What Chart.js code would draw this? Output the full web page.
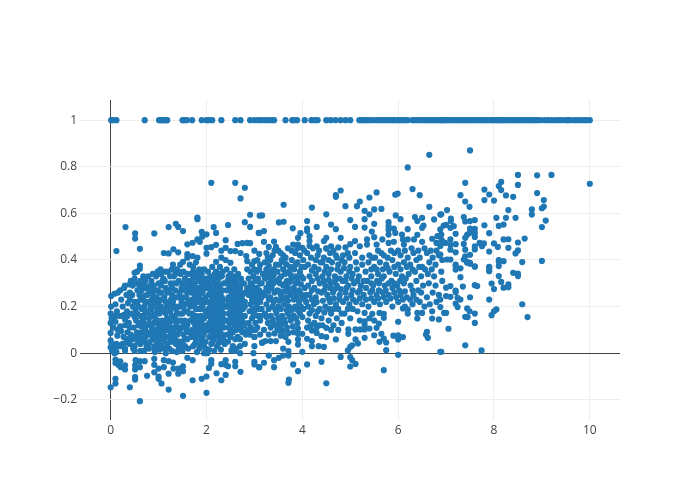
<!DOCTYPE html>
<html>
<head>
<meta charset="utf-8">
<script src="https://cdn.jsdelivr.net/npm/chart.js@4"></script>
<style>
body { margin: 0; background: #fff; }
canvas { display: block; }
</style>
</head>
<body>
<canvas id="myScatterChart" width="700" height="500"></canvas>
<script>
// points with y exactly 1
const topRowX = [0.01,0.05,0.12,0.71,1.01,1.05,1.08,1.12,1.15,1.18,1.5,1.54,1.59,1.7,1.9,2.0,2.05,2.12,2.31,2.6,2.71,2.91,3.0,3.08,3.15,3.22,3.29,3.36,3.41,3.65,3.79,3.82,3.89,4.05,4.19,4.26,4.32,4.5,4.59,4.69,4.8,4.9,5.0,5.19,5.24,5.28,5.33,5.38,5.43,5.5,5.57,5.62,5.68,5.74,5.8,5.85,5.9,5.95,6.0,6.05,6.1,6.15,6.2,6.3,6.35,6.4,6.45,6.52,6.56,6.62,6.66,6.7,6.75,6.8,6.85,6.9,6.92,6.96,7.0,7.05,7.1,7.15,7.2,7.25,7.3,7.35,7.4,7.45,7.5,7.55,7.6,7.65,7.7,7.75,7.8,7.85,7.9,7.95,8.0,8.04,8.08,8.12,8.16,8.2,8.25,8.3,8.35,8.4,8.45,8.5,8.55,8.6,8.65,8.7,8.75,8.8,8.85,8.9,8.96,9.05,9.13,9.2,9.28,9.35,9.42,9.5,9.55,9.6,9.68,9.75,9.8,9.87,9.93,10.0];

// [x, y], left part of the cloud
const upperLeft = [[2.1,.731],[2.6,.731],[2.8,.71],[2.71,.664],[2.91,.594],[3.11,.59],[1.81,.575],[1.81,.582],[.31,.541],[1.21,.541],[1.36,.555],[1.41,.542],[1.51,.524],[.51,.514],[.51,.492],[.91,.514],[.61,.448],[.12,.438],[1.9,.521],[2.0,.51],[1.91,.5],[1.81,.488],[1.86,.478],[1.71,.474],[1.6,.467],[2.15,.541],[2.45,.55],[2.2,.516],[2.8,.562],[2.91,.542],[3.09,.516],[2.0,.452],[2.1,.455],[2.2,.465],[2.4,.485],[2.4,.452],[2.31,.44],[2.65,.469],[2.75,.472],[2.85,.473],[2.91,.472],[3.0,.44],[3.1,.426],[1.11,.43],[1.21,.428],[1.31,.446],[1.41,.433],[1.6,.425],[1.71,.417],[1.81,.41],[2.0,.427],[2.5,.438],[2.6,.438],[2.71,.43],[1.51,.392],[1.6,.41],[2.31,.41],[2.2,.392],[2.4,.4],[2.5,.388],[2.83,.417],[2.85,.395],[3.0,.395],[3.06,.4],[.61,.376],[.61,.362],[.5,.345],[.55,.35]];

const lowerEdge = [[.61,-.206],[1.51,-.183],[2.0,-.17],[1.21,-.156],[0,-.146],[.1,-.11],[.1,-.13],[.4,-.146],[1.06,-.13],[1,-.11],[1,-.1],[.76,-.097],[.51,-.103],[.51,-.113],[1.71,-.116],[1.9,-.11],[2,-.1],[2.31,-.116],[2.4,-.093],[2.21,-.086],[2.71,-.08],[.91,-.082],[1.21,-.088],[1.41,-.088],[1.51,-.077],[1.31,-.066],[1.41,-.066],[1.51,-.056],[1,-.066],[1.11,-.06],[.91,-.05],[.61,-.06],[.51,-.07],[.51,-.052],[.3,-.07],[.3,-.052],[.21,-.06],[.1,-.027],[.1,-.042],[.2,-.035],[.16,-.05],[2.05,-.063],[2.1,-.03],[2.1,-.045],[2.31,-.047],[2.4,-.03],[2.45,-.056],[2.4,-.05],[2.6,-.037],[2.6,-.056],[3,-.037],[3,-.048],[3.1,-.06],[1.71,-.03],[1.6,-.02],[.71,-.034],[.61,-.034],[1.21,-.034],[1.11,-.03],[.91,-.024],[.52,-.03],[1.3,-.04],[3.72,-.113],[3.71,-.127],[4.5,-.129],[5.7,-.073],[3.91,-.077],[4.1,-.048],[4.4,-.037],[3.81,-.048],[3.41,-.06],[3.1,-.06],[3.2,-.041],[5.0,-.057],[5.11,-.046],[5.04,-.03],[5,-.017],[4.8,-.016],[6,-.007],[3.51,-.02],[3.41,-.03],[3.6,-.01],[3.71,-.01],[3.3,-.01],[4,.006],[3.6,.02],[3.71,.009],[5.75,.013],[6.9,.006],[4.95,.012],[5,.027],[5.04,.034]];

// dense part, x below 3.2
const denseLeft = [[.01,.245],[.01,.2],[0,.17],[.02,.15],[0,.13],[0,.087],[0,.055],[.02,.04],[0,.025],[.03,.01],[.08,.255],[.1,.21],[.09,.16],[.1,.135],[.12,.04],[.1,.02],[.08,0],[.2,.27],[.15,.26],[.28,.28],[.22,.23],[.3,.29],[.18,.16],[.28,.165],[.3,.145],[.2,.115],[.3,.12],[.25,.04],[.2,.03],[.3,.02],[.32,.045],[.3,.01],[.12,.005],[.17,.035],[.42,.31],[.5,.32],[.4,.295],[.52,.3],[.4,.26],[.45,.25],[.4,.23],[.5,.22],[.52,.19],[.55,.17],[.5,.155],[.53,.14],[.58,.12],[.4,.11],[.35,.09],[.42,.08],[.36,.06],[.45,.06],[.4,.04],[.5,.03],[.47,.02],[.5,.01],[.72,.31],[.65,.27],[.75,.28],[.7,.245],[.8,.26],[.85,.31],[.9,.29],[.95,.33],[1,.3],[.88,.25],[.78,.22],[.95,.24],[.7,.2],[.65,.19],[.72,.17],[.62,.16],[.8,.15],[.68,.13],[.75,.12],[.85,.19],[.92,.17],[.98,.14],[.86,.11],[.65,.09],[.78,.09],[.95,.1],[.7,.05],[.88,.06],[.62,.04],[1,.07],[.92,.03],[.7,.01],[.92,.015],[.75,.03],[.62,.01],[.92,.005],[1,.04],[1.05,.34],[1.1,.32],[1.15,.28],[1.02,.26],[1.2,.35],[1.25,.3],[1.12,.24],[1.22,.21],[1.05,.2],[1.15,.17],[1.02,.17],[1.08,.14],[1.22,.13],[1.28,.16],[1.18,.1],[1.25,.09],[1.1,.08],[1.3,.07],[1.12,.05],[1.25,.05],[1.12,.02],[1.22,.02],[1.15,0],[1.28,.01],[1.3,.38],[1.38,.36],[1.45,.38],[1.32,.33],[1.42,.31],[1.52,.35],[1.55,.32],[1.35,.27],[1.48,.28],[1.58,.29],[1.4,.24],[1.52,.24],[1.6,.26],[1.33,.2],[1.45,.2],[1.55,.21],[1.62,.22],[1.38,.17],[1.5,.17],[1.6,.18],[1.42,.14],[1.55,.14],[1.35,.11],[1.48,.11],[1.6,.12],[1.4,.08],[1.52,.08],[1.6,.06],[1.45,.05],[1.36,.04],[1.55,.03],[1.42,.02],[1.38,.005],[1.5,.01],[1.62,.02],[1.65,.38],[1.72,.37],[1.78,.39],[1.85,.36],[1.68,.34],[1.78,.33],[1.88,.32],[1.65,.3],[1.75,.3],[1.82,.28],[1.9,.29],[1.68,.26],[1.76,.25],[1.85,.25],[1.92,.26],[1.7,.23],[1.8,.22],[1.88,.23],[1.95,.22],[1.66,.2],[1.75,.2],[1.84,.19],[1.92,.2],[1.98,.18],[1.7,.17],[1.78,.16],[1.88,.16],[1.95,.15],[1.66,.14],[1.74,.13],[1.84,.13],[1.92,.12],[1.98,.12],[1.7,.1],[1.8,.1],[1.88,.09],[1.96,.09],[1.68,.07],[1.78,.06],[1.9,.06],[1.98,.05],[1.72,.03],[1.85,.02],[1.92,.03],[1.98,.02],[1.8,.005],[1.95,0],[2.02,0],[2.03,.35],[2.12,.37],[2.2,.35],[2.28,.37],[2.05,.31],[2.15,.32],[2.25,.32],[2.32,.33],[2.02,.28],[2.1,.27],[2.2,.28],[2.28,.29],[2.36,.3],[2.05,.25],[2.14,.24],[2.23,.25],[2.3,.26],[2.02,.22],[2.1,.21],[2.18,.22],[2.27,.22],[2.35,.23],[2.05,.19],[2.13,.18],[2.22,.19],[2.3,.19],[2.38,.2],[2.03,.16],[2.1,.15],[2.18,.16],[2.27,.16],[2.35,.17],[2.06,.13],[2.14,.12],[2.22,.13],[2.3,.13],[2.38,.14],[2.03,.1],[2.12,.09],[2.2,.1],[2.28,.1],[2.36,.11],[2.06,.07],[2.15,.06],[2.25,.07],[2.33,.08],[2.1,.04],[2.22,.03],[2.3,.05],[2.38,.04],[2.05,.015],[2.16,.01],[2.3,.015],[2.42,.36],[2.5,.34],[2.58,.36],[2.66,.34],[2.44,.31],[2.54,.31],[2.62,.31],[2.72,.32],[2.42,.27],[2.5,.27],[2.6,.28],[2.7,.28],[2.78,.3],[2.46,.24],[2.55,.24],[2.65,.25],[2.75,.25],[2.42,.2],[2.5,.21],[2.6,.21],[2.7,.22],[2.8,.22],[2.46,.17],[2.56,.18],[2.66,.18],[2.76,.19],[2.42,.14],[2.52,.15],[2.62,.15],[2.72,.15],[2.46,.11],[2.58,.12],[2.68,.12],[2.78,.12],[2.43,.08],[2.55,.09],[2.65,.07],[2.75,.09],[2.85,.1],[2.45,.05],[2.55,.03],[2.7,.03],[2.62,.02],[2.8,.04],[2.58,.01],[2.52,.012],[2.7,.0],[2.85,.36],[2.95,.38],[3.05,.35],[3.12,.38],[2.88,.32],[2.98,.33],[3.08,.32],[3.18,.34],[2.85,.28],[2.95,.29],[3.05,.28],[3.15,.3],[2.88,.25],[2.98,.25],[3.08,.25],[3.18,.26],[2.92,.21],[3.02,.22],[3.12,.22],[3.15,.19],[2.9,.18],[3,.18],[3.08,.16],[2.95,.15],[3.02,.13],[3.12,.14],[2.88,.13],[2.96,.1],[3.06,.11],[2.9,.08],[3.0,.07],[3.12,.08],[3,.03],[3.02,.1],[3.16,.045],[2.98,.0]];

// second pass over the solid patch, between the first readings
const denseLeftExtra = [[.25,.2],[.34,.18],[.15,.1],[.27,.07],[.6,.29],[.63,.23],[.58,.2],[.76,.25],[.82,.29],[.93,.27],[.68,.28],[.83,.2],[.9,.22],[.75,.18],[.67,.15],[.84,.16],[.9,.13],[.72,.1],[.82,.08],[.88,.09],[.6,.07],[.72,.07],[.8,.04],[.98,.19],[1.05,.29],[1.13,.31],[1.18,.26],[1.08,.23],[1.18,.2],[1.12,.19],[1.24,.18],[1.1,.12],[1.16,.13],[1.28,.11],[1.04,.1],[1.06,.06],[1.2,.07],[1.32,.3],[1.28,.25],[1.38,.3],[1.46,.34],[1.44,.26],[1.54,.27],[1.3,.22],[1.4,.2],[1.48,.22],[1.58,.24],[1.34,.15],[1.44,.17],[1.54,.18],[1.64,.17],[1.37,.13],[1.47,.14],[1.58,.1],[1.32,.09],[1.44,.1],[1.55,.06],[1.62,.09],[1.34,.06],[1.47,.03],[1.72,.35],[1.82,.35],[1.9,.34],[1.95,.36],[1.98,.32],[1.72,.32],[1.84,.31],[1.95,.3],[2,.3],[1.7,.28],[1.79,.27],[1.88,.27],[1.96,.28],[1.73,.21],[1.82,.24],[1.9,.21],[1.98,.24],[1.78,.19],[1.88,.19],[1.72,.15],[1.82,.15],[1.9,.14],[1.98,.16],[1.77,.115],[1.87,.11],[1.94,.105],[1.73,.08],[1.83,.08],[1.93,.075],[1.76,.04],[1.87,.04],[1.95,.04],[2.08,.33],[2.17,.34],[2.26,.34],[2.34,.35],[2.08,.29],[2.16,.3],[2.24,.3],[2.33,.27],[2.08,.26],[2.17,.26],[2.26,.27],[2.12,.23],[2.2,.24],[2.32,.24],[2.08,.2],[2.17,.2],[2.25,.2],[2.34,.21],[2.08,.17],[2.16,.18],[2.24,.17],[2.32,.18],[2.1,.14],[2.18,.14],[2.26,.145],[2.34,.15],[2.08,.11],[2.16,.11],[2.24,.115],[2.33,.12],[2.1,.08],[2.19,.08],[2.29,.085],[2.13,.05],[2.26,.045],[2.35,.06],[2.46,.33],[2.56,.33],[2.64,.32],[2.74,.3],[2.47,.29],[2.56,.29],[2.66,.29],[2.52,.25],[2.6,.26],[2.7,.26],[2.8,.26],[2.46,.22],[2.56,.22],[2.65,.23],[2.74,.23],[2.5,.19],[2.6,.19],[2.7,.2],[2.8,.2],[2.5,.16],[2.6,.165],[2.7,.17],[2.8,.16],[2.48,.13],[2.56,.135],[2.66,.14],[2.76,.135],[2.5,.1],[2.62,.1],[2.72,.1],[2.82,.08],[2.5,.07],[2.6,.06],[2.7,.06],[2.92,.35],[3,.36],[3.1,.36],[2.92,.3],[3.02,.31],[3.12,.3],[2.9,.27],[3,.27],[3.1,.27],[2.95,.23],[3.05,.24],[3.15,.24],[2.96,.19],[3.05,.2],[3.1,.19],[2.98,.16],[3.14,.16],[2.92,.11]];

// third pass, left flank of the patch
const leftFlank = [[.13,.18],[.06,.11],[.14,.075],[.24,.16],[.22,.095],[.33,.25],[.36,.215],[.35,.16],[.38,.13],[.46,.29],[.56,.27],[.46,.2],[.6,.25],[.56,.22],[.44,.17],[.6,.13],[.48,.11],[.55,.09],[.5,.07],[.56,.05],[.68,.33],[.62,.31],[.78,.33],[.88,.34],[.98,.35],[.7,.29],[.84,.27],[.98,.27],[.72,.22],[.86,.23],[1,.22],[.8,.18],[.94,.2],[.7,.15],[.78,.125],[.93,.15],[.64,.115],[.82,.125],[1,.12],[.74,.075],[.9,.07],[.98,.085],[.66,.06],[.82,.05],[.95,.055],[.8,.02],[1.02,.015],[1.04,.36],[1.14,.35],[1.24,.33],[1.28,.36],[1.08,.31],[1.22,.27],[1.06,.26],[1.28,.28],[1.15,.22],[1.26,.23],[1.03,.23],[1.26,.2],[1.08,.18],[1.18,.15],[1.3,.14],[1.05,.12],[1.14,.1],[1.22,.11],[1.06,.08],[1.16,.07],[1.28,.05],[1.18,.04],[1.06,.03],[1.35,.34],[1.42,.35],[1.5,.3],[1.6,.34],[1.62,.31],[1.36,.24],[1.46,.24],[1.62,.28],[1.36,.19],[1.52,.2],[1.42,.11],[1.52,.12],[1.4,.05],[1.5,.05]];

// middle of the cloud, x from 3.2 to 7
const denseMiddle = [[3.2,.478],[3.41,.479],[3.3,.456],[3.45,.456],[3.51,.561],[3.61,.564],[3.61,.637],[3.16,.591],[3.1,.516],[3.2,.524],[3.8,.536],[3.81,.466],[3.91,.466],[3.91,.495],[3.96,.515],[4,.452],[3.25,.43],[3.38,.42],[3.5,.44],[3.6,.42],[3.7,.45],[3.85,.43],[3.95,.42],[4.1,.43],[3.22,.39],[3.33,.4],[3.45,.38],[3.57,.4],[3.67,.38],[3.78,.4],[3.9,.39],[4.02,.4],[3.25,.36],[3.35,.35],[3.48,.35],[3.6,.36],[3.72,.35],[3.83,.36],[3.95,.35],[4.05,.37],[3.22,.32],[3.34,.32],[3.45,.31],[3.56,.33],[3.68,.31],[3.78,.32],[3.9,.31],[4.02,.32],[3.25,.28],[3.36,.28],[3.48,.27],[3.6,.29],[3.7,.28],[3.82,.28],[3.93,.27],[4.05,.28],[3.22,.25],[3.33,.24],[3.45,.23],[3.55,.25],[3.66,.24],[3.76,.25],[3.88,.24],[4,.24],[3.25,.21],[3.38,.2],[3.5,.2],[3.62,.21],[3.72,.2],[3.85,.2],[3.97,.2],[4.08,.22],[3.22,.17],[3.34,.16],[3.46,.17],[3.58,.16],[3.7,.17],[3.82,.16],[3.95,.17],[3.28,.13],[3.4,.13],[3.52,.13],[3.64,.13],[3.76,.14],[3.9,.13],[3.48,.1],[3.6,.095],[3.51,.1],[3.71,.087],[3.91,.106],[4,.083],[3.91,.083],[3.2,.1],[3,.1],[3,.07],[3.45,.052],[3.34,.052],[3.23,.052],[3.16,.045],[3.71,.049],[3.91,.037],[3.91,.059],[4.1,.062],[4.2,.052],[4.2,.03],[4.34,.03],[4.45,.027],[4.7,.059],[5.11,.059],[5.16,.042],[5.3,.066],[5.61,.049],[5.75,.046],[5.7,.063],[5.65,.083],[5.5,.077],[5.9,.075],[6,.077],[6,.059],[6.1,.069],[6.6,.092],[6.62,.066],[6.58,.08],[4.5,.069],[4.4,.073],[4.5,.109],[4.3,.087],[4.2,.097],[4.96,.083],[4.96,.102],[5.11,.102],[5.21,.102],[5.3,.102],[5.4,.106],[5.55,.109],[5.6,.127],[5.3,.123],[5.3,.137],[5.3,.173],[5.46,.169],[5.61,.173],[5.7,.169],[5.7,.152],[6,.135],[6.1,.192],[6.2,.188],[6.2,.17],[6.4,.173],[6.4,.149],[6.5,.173],[6.71,.18],[6.71,.149],[6.85,.145],[6.96,.173],[4.12,.14],[4.25,.13],[4.35,.12],[4.1,.11],[4.15,.17],[4.28,.16],[4.4,.15],[4.55,.14],[4.65,.12],[4.72,.15],[4.82,.13],[4.6,.17],[4.75,.19],[4.88,.17],[5,.15],[5.05,.19],[5.15,.18],[4.12,.2],[4.24,.21],[4.36,.19],[4.48,.2],[4.58,.22],[4.7,.21],[4.85,.22],[4.98,.21],[5.12,.22],[5.25,.21],[5.38,.2],[5.5,.22],[5.62,.21],[5.75,.22],[5.88,.2],[6,.22],[6.14,.2],[6.3,.21],[6.45,.22],[6.55,.2],[6.66,.21],[6.8,.22],[4.15,.25],[4.28,.24],[4.4,.26],[4.52,.25],[4.64,.26],[4.78,.25],[4.9,.26],[5.02,.25],[5.16,.26],[5.28,.25],[5.42,.26],[5.55,.25],[5.68,.26],[5.8,.25],[5.92,.26],[6.05,.25],[6.18,.24],[6.32,.25],[6.48,.26],[6.6,.24],[6.72,.26],[6.85,.25],[4.12,.29],[4.25,.28],[4.36,.3],[4.48,.29],[4.6,.3],[4.72,.29],[4.84,.31],[4.96,.29],[5.08,.3],[5.22,.29],[5.35,.31],[5.48,.29],[5.6,.3],[5.72,.29],[5.86,.31],[5.98,.29],[6.12,.3],[6.26,.29],[6.38,.31],[6.52,.29],[6.64,.3],[6.78,.29],[6.92,.31],[4.15,.33],[4.28,.34],[4.42,.33],[4.55,.34],[4.68,.33],[4.8,.35],[4.92,.33],[5.05,.34],[5.18,.33],[5.32,.35],[5.44,.33],[5.58,.34],[5.7,.33],[5.82,.35],[5.95,.34],[6.08,.33],[6.22,.34],[6.35,.35],[6.48,.33],[6.62,.34],[6.75,.33],[6.9,.35],[4.12,.38],[4.25,.37],[4.38,.39],[4.5,.37],[4.62,.39],[4.75,.38],[4.88,.39],[5,.37],[5.12,.39],[5.25,.38],[5.38,.39],[5.5,.37],[5.62,.39],[5.75,.38],[5.88,.4],[6,.38],[6.12,.39],[6.25,.38],[6.38,.4],[6.5,.37],[6.65,.39],[6.78,.38],[6.92,.4],[4.18,.41],[4.32,.42],[4.45,.41],[4.58,.43],[4.72,.41],[4.85,.42],[4.98,.41],[5.1,.43],[5.25,.41],[5.4,.42],[5.52,.41],[5.65,.43],[5.78,.41],[5.92,.43],[6.05,.42],[6.2,.41],[6.32,.43],[6.45,.41],[6.6,.43],[6.72,.41],[6.85,.42]];

// second pass over the middle, off the first rows
const denseMiddleExtra = [[3.28,.41],[3.42,.44],[3.55,.43],[3.65,.41],[3.78,.44],[3.9,.45],[4.04,.44],[3.3,.375],[3.4,.36],[3.52,.38],[3.63,.39],[3.75,.37],[3.86,.38],[3.98,.37],[3.28,.34],[3.4,.335],[3.52,.32],[3.64,.34],[3.76,.335],[3.87,.33],[3.98,.33],[3.3,.3],[3.4,.3],[3.53,.3],[3.65,.3],[3.74,.305],[3.86,.3],[3.97,.295],[3.29,.265],[3.42,.26],[3.52,.265],[3.63,.265],[3.74,.26],[3.85,.26],[3.97,.255],[4.08,.25],[3.3,.23],[3.4,.22],[3.52,.225],[3.6,.235],[3.7,.225],[3.82,.23],[3.93,.22],[4.05,.23],[3.3,.19],[3.44,.185],[3.55,.19],[3.67,.185],[3.78,.185],[3.9,.185],[4.02,.19],[3.26,.155],[3.38,.145],[3.5,.15],[3.62,.145],[3.74,.155],[3.87,.15],[4,.155],[3.34,.11],[3.44,.12],[3.55,.115],[3.68,.11],[3.8,.115],[3.3,.08],[3.42,.085],[3.55,.075],[3.65,.07],[3.82,.09],[4.35,.44],[4.22,.45],[4.5,.45],[4.65,.44],[4.28,.4],[4.42,.39],[4.55,.4],[4.7,.42],[4.82,.4],[4.95,.43],[4.2,.355],[4.34,.36],[4.47,.35],[4.6,.36],[4.73,.36],[4.87,.365],[4.98,.35],[5.14,.36],[4.2,.31],[4.32,.32],[4.45,.31],[4.55,.315],[4.68,.31],[4.78,.32],[4.9,.31],[5.03,.32],[5.15,.31],[5.28,.31],[4.2,.27],[4.33,.265],[4.46,.27],[4.58,.28],[4.68,.275],[4.8,.275],[4.92,.28],[5.05,.27],[5.2,.27],[5.33,.28],[4.2,.23],[4.3,.22],[4.43,.225],[4.55,.235],[4.66,.235],[4.78,.23],[4.92,.235],[5.06,.23],[5.2,.235],[5.33,.23],[4.2,.185],[4.32,.18],[4.46,.175],[4.56,.19],[4.66,.19],[4.82,.17],[4.95,.19],[4.18,.12],[4.3,.11],[4.42,.12],[4.6,.1],[4.75,.1],[5.2,.14],[5.4,.15],[5.5,.14],[5.44,.3],[5.56,.31],[5.66,.32],[5.8,.3],[5.92,.3],[6.04,.31],[6.16,.32],[5.46,.27],[5.6,.27],[5.74,.27],[5.88,.28],[6.02,.27],[6.14,.265],[6.3,.27],[6.42,.27],[5.44,.235],[5.58,.235],[5.7,.24],[5.84,.235],[5.96,.24],[6.1,.23],[6.25,.23],[6.38,.23],[5.44,.36],[5.55,.36],[5.68,.36],[5.78,.365],[5.92,.37],[6.05,.36],[6.18,.37],[6.3,.36],[6.44,.37],[6.56,.36],[6.7,.36],[5.46,.41],[5.58,.44],[5.7,.42],[5.85,.44],[6,.44],[6.14,.44],[6.28,.45],[6.42,.44],[6.55,.45],[6.68,.44],[6.8,.44]];

// upper edge, x from 3.2 to 10
const upperRight = [[6.65,.851],[6.2,.797],[6.3,.704],[6.45,.678],[5.99,.685],[5.94,.68],[5.55,.69],[5.4,.668],[4.8,.698],[4.7,.678],[4.7,.671],[4.9,.631],[5.2,.651],[5.14,.631],[6.65,.628],[4.2,.625],[5.3,.611],[5.4,.596],[5.5,.617],[5.65,.619],[4.5,.596],[6.9,.596],[6.75,.574],[5.95,.591],[6.05,.575],[6.35,.584],[6.5,.581],[6.4,.567],[5,.571],[5.3,.575],[4.1,.567],[4.6,.552],[4.3,.542],[4.7,.532],[5.1,.542],[5.3,.539],[5.5,.555],[5.8,.562],[5.8,.545],[5.8,.53],[5.91,.535],[6.53,.548],[6.5,.538],[6.2,.532],[4.1,.535],[4.1,.524],[5.45,.522],[5.8,.509],[5.94,.516],[6.08,.509],[6.4,.508],[6.95,.548],[6.9,.509],[4.15,.502],[4.5,.495],[4.45,.481],[4.8,.495],[5.35,.488],[5.5,.498],[5.67,.488],[6.1,.488],[6.2,.488],[6.33,.488],[6.71,.491],[6.82,.502],[4.15,.481],[4.15,.46],[4.3,.459],[4.5,.449],[4.6,.459],[4.75,.454],[4.9,.454],[5,.468],[5.1,.481],[5.2,.459],[5.35,.466],[5.55,.466],[5.8,.473],[5.91,.478],[6.12,.466],[6.5,.478],[6.8,.473],[6.92,.481],[7.5,.87],[8.5,.765],[8.9,.763],[9.2,.765],[10,.727],[8.15,.735],[8.1,.717],[8.15,.7],[8.5,.722],[7.4,.731],[7.8,.702],[7.9,.681],[7.3,.678],[8.25,.677],[8.4,.671],[8.9,.687],[7.4,.651],[7.8,.657],[8,.655],[7.49,.628],[9.04,.657],[9.04,.629],[9,.622],[8.79,.617],[8.79,.595],[8.3,.614],[7.02,.614],[6.88,.595],[8.05,.581],[8.25,.581],[8.45,.581],[7.37,.584],[7.1,.577],[7.1,.567],[7.4,.565],[7.5,.567],[7.6,.571],[9.08,.569],[9,.541],[7.8,.549],[8.1,.546],[8.2,.552],[7,.551],[7.16,.545],[7.09,.538],[6.88,.531],[7.5,.535],[7.6,.534],[7.6,.516],[7.9,.515],[7.49,.516],[7.2,.512],[7.44,.508],[7.6,.499],[6.88,.502],[8.64,.492],[8.2,.488],[8.3,.489],[8.5,.475],[8,.471],[7.7,.473],[7.79,.471],[7.75,.459],[8.08,.456],[8.3,.452],[7.2,.468],[7.09,.488],[7.4,.495],[7.37,.469],[6.91,.484],[6.98,.473],[7.09,.465],[6.88,.46],[7.6,.459],[7.6,.445],[8.5,.441],[8.45,.428],[7.9,.436],[7.4,.444],[7.09,.444],[7.2,.433],[7.5,.422],[7.4,.416],[6.88,.423],[8.59,.391],[9,.396],[8.1,.4],[8.2,.395],[8.1,.392],[7.02,.402],[7.09,.402],[7.37,.402],[7.44,.392],[7.5,.388],[7.2,.38],[7.6,.373],[7.9,.371],[7.4,.034],[7.74,.012],[6.88,.006],[7.05,.105],[7.6,.13],[8.7,.155],[7.4,.156],[7.45,.155],[7,.173],[7.6,.17],[7.49,.18],[7.44,.192],[7.95,.163],[8,.18],[8.05,.188],[8.59,.21],[7.9,.23],[7.3,.23],[7.24,.238],[7.2,.213],[7.24,.198],[6.88,.198],[6.88,.23],[7,.245],[7.09,.242],[7.5,.24],[7.2,.269],[7.2,.262],[7,.281],[7.09,.288],[7.35,.286],[7.6,.292],[7.65,.288],[7.95,.299],[8,.275],[8.15,.306],[8.2,.281],[8.3,.295],[8.3,.283],[8.1,.331],[7.3,.326],[8.4,.345],[8.5,.342],[8.5,.331],[7.9,.364],[7.9,.352],[7.2,.374],[7.2,.359],[7.3,.364],[7.6,.371],[8.1,.374],[7.44,.388],[7.5,.384]];

const xTickStep = 2;
const yTickStep = 0.2;

window.drawScatterChart = function (datasets) {
    const ctx = document.getElementById("myScatterChart").getContext("2d");

    window.myScatterChart = new Chart(ctx, {
        type: 'scatter',
        data: { datasets: datasets },
        options: {
            responsive: false,
            animation: false,
            layout: { padding: { top: 100, right: 80 } },
            plugins: { legend: { display: false }, tooltip: { enabled: false } },
            scales: {
                x: {
                    type: 'linear',
                    min: -0.64,
                    max: 10.63,
                    afterFit: function (axis) { axis.height = 80; },
                    border: { display: false },
                    grid: {
                        drawTicks: false,
                        color: (c) => c.tick.value === 0 ? '#444' : '#eee'
                    },
                    ticks: {
                        stepSize: xTickStep,
                        includeBounds: false,
                        maxRotation: 0,
                        padding: 3,
                        color: '#444',
                        font: { family: '"Open Sans"', size: 12 }
                    }
                },
                y: {
                    min: -0.2866,
                    max: 1.0864,
                    afterFit: function (axis) { axis.width = 80; },
                    border: { display: false },
                    grid: {
                        drawTicks: false,
                        color: (c) => c.tick.value === 0 ? '#444' : '#eee'
                    },
                    ticks: {
                        stepSize: yTickStep,
                        includeBounds: false,
                        padding: 3,
                        color: '#444',
                        font: { family: '"Open Sans"', size: 12 },
                        callback: (v) => {
                            const r = Math.round(v * 10) / 10;
                            return r < 0 ? '\u2212' + Math.abs(r) : String(r);
                        }
                    }
                }
            }
        }
    });
};

const topRow = topRowX.map(x => ({ x: x, y: 1 }));
const cloud = [upperLeft, lowerEdge, denseLeft, denseLeftExtra, leftFlank, denseMiddle, denseMiddleExtra, upperRight].flat().map(p => ({ x: p[0], y: p[1] }));

window.drawScatterChart([{
    data: topRow.concat(cloud),
    backgroundColor: '#1f77b4',
    borderColor: '#1f77b4',
    borderWidth: 0,
    pointRadius: 3.1
}]);
</script>
</body>
</html>
